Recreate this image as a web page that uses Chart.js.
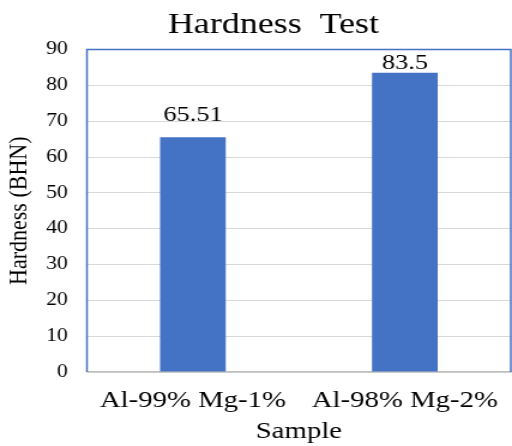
<!DOCTYPE html>
<html><head><meta charset="utf-8">
<script src="https://cdn.jsdelivr.net/npm/chart.js@4"></script>
<style>html,body{margin:0;padding:0;background:#fff;overflow:hidden}#c{display:block}</style>
</head><body>
<canvas id="c" width="427" height="446" style="width:512px;height:446px"></canvas>
<script>
const categories = ["Al-99% Mg-1%", "Al-98% Mg-2%"];
const hardness = [65.51, 83.5];
const hardnessLabels = ["65.51", "83.5"];
const yTicks = [0, 10, 20, 30, 40, 50, 60, 70, 80, 90];
const chartTitle = "Hardness  Test";

const serif = "'Liberation Serif', 'Times New Roman', serif";

const borderPlugin = {
  id: 'plotBorder',
  afterDraw(chart) {
    const {ctx, chartArea: a} = chart;
    ctx.save();
    ctx.strokeStyle = '#4472C4';
    ctx.lineWidth = 1.5;
    ctx.beginPath();
    ctx.moveTo(a.left, a.bottom);
    ctx.lineTo(a.left, a.top);
    ctx.lineTo(a.right, a.top);
    ctx.lineTo(a.right, a.bottom);
    ctx.stroke();
    ctx.fillStyle = '#000';
    ctx.font = "30px " + serif;
    ctx.textAlign = 'center';
    ctx.textBaseline = 'alphabetic';
    ctx.fillText(chartTitle, chart.width * 0.534, a.top - 16.5);
    ctx.restore();
  }
};
const labelPlugin = {
  id: 'valLabels',
  afterDatasetsDraw(chart) {
    const {ctx, chartArea: a} = chart;
    const meta = chart.getDatasetMeta(0);
    ctx.save();
    ctx.fillStyle = '#000';
    ctx.font = "22px " + serif;
    ctx.textAlign = 'center';
    ctx.textBaseline = 'alphabetic';
    meta.data.forEach((bar, i) => {
      const y = Math.max(bar.y - 16, a.top + 19);
      ctx.fillText(hardnessLabels[i], bar.x, y);
    });
    ctx.restore();
  }
};

new Chart(document.getElementById('c'), {
  type: 'bar',
  data: {
    labels: categories,
    datasets: [{ data: hardness, backgroundColor: '#4472C4', barPercentage: 0.5, categoryPercentage: 0.62 }]
  },
  options: {
    responsive: false,
    animation: false,
    devicePixelRatio: 1,
    layout: { padding: { left: 0, right: 1, top: 49.5, bottom: 0 } },
    plugins: {
      legend: { display: false },
      tooltip: { enabled: false },
      title: { display: false }
    },
    scales: {
      x: {
        afterFit(axis) { axis.height = 74; axis.paddingLeft = 0; axis.paddingRight = 0; },
        grid: { display: false, drawTicks: false },
        border: { color: '#BFBFBF', width: 1.5 },
        ticks: { color: '#000', font: { family: serif, size: 24 }, padding: 14, maxRotation: 0, autoSkip: false },
        title: { display: true, text: 'Sample', color: '#000', font: { family: serif, size: 24 }, padding: { top: 2, bottom: 0 } }
      },
      y: {
        min: 0, max: 90,
        afterFit(axis) { axis.width = 72.5; axis.paddingTop = 0; axis.paddingBottom = 0; },
        afterBuildTicks(axis) { axis.ticks = yTicks.map(v => ({ value: v })); },
        grid: { color: '#D9D9D9', lineWidth: 1, drawTicks: false },
        border: { display: false },
        ticks: { color: '#000', font: { family: serif, size: 18 }, padding: 16 },
        title: { display: true, text: 'Hardness (BHN)', color: '#000', font: { family: serif, size: 22 }, padding: { top: 3, bottom: 9 } }
      }
    }
  },
  plugins: [borderPlugin, labelPlugin]
});
</script></body></html>
